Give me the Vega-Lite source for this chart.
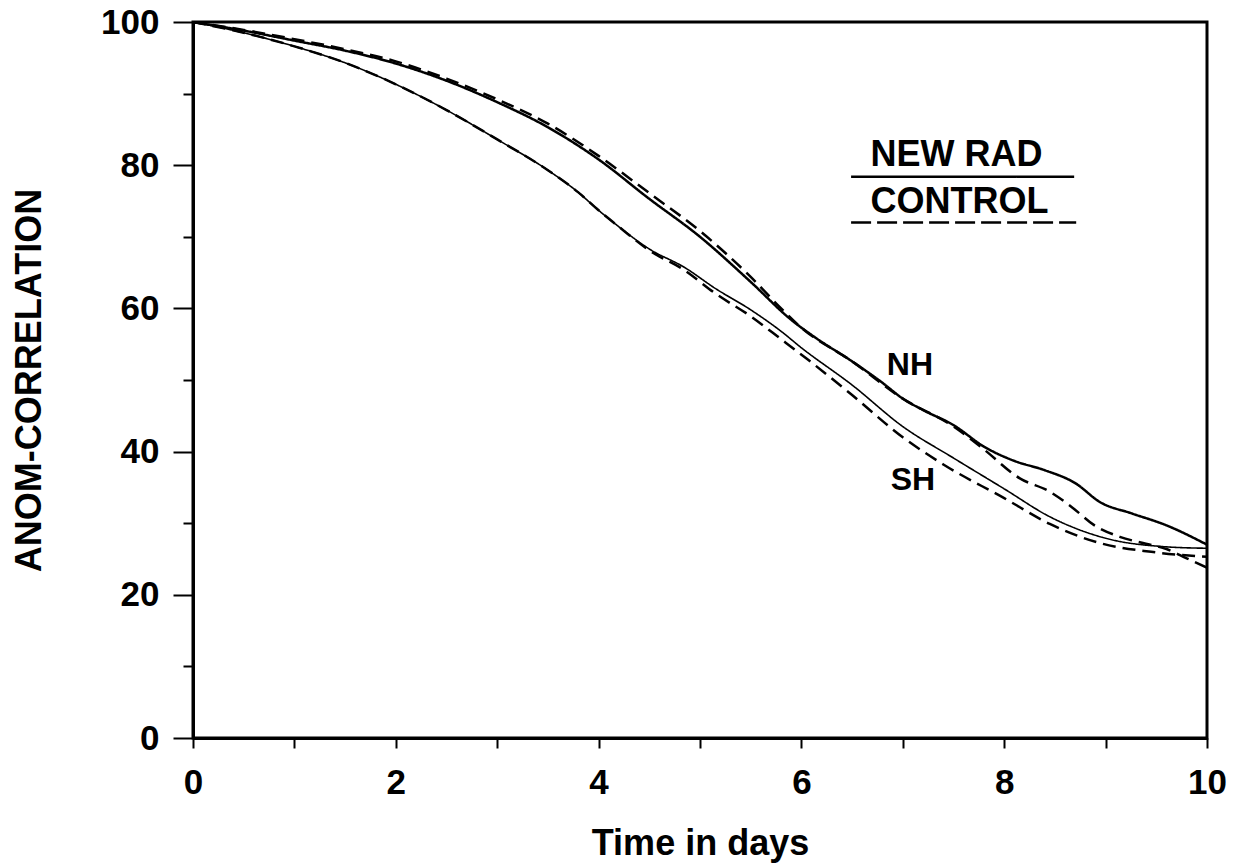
{
  "$schema": "https://vega.github.io/schema/vega-lite/v6.json",
  "width": 1014,
  "height": 716,
  "autosize": {"type": "none"},
  "padding": {"left": 193, "top": 22, "right": 27, "bottom": 126},
  "background": "white",
  "config": {
    "view": {"stroke": "black", "strokeWidth": 3},
    "font": "Liberation Sans",
    "axis": {
      "grid": false,
      "domainColor": "black",
      "domainWidth": 3,
      "tickColor": "black",
      "tickWidth": 2,
      "labelColor": "black",
      "labelFont": "Liberation Sans",
      "labelFontWeight": "bold",
      "labelFontSize": 35,
      "titleColor": "black",
      "titleFont": "Liberation Sans",
      "titleFontWeight": "bold",
      "titleFontSize": 36
    }
  },
  "datasets": {
    "curves": [
      {"region": "NH", "run": "new rad", "day": 0, "acc": 100},
      {"region": "NH", "run": "new rad", "day": 0.5, "acc": 98.8},
      {"region": "NH", "run": "new rad", "day": 1, "acc": 97.4},
      {"region": "NH", "run": "new rad", "day": 1.5, "acc": 96.0},
      {"region": "NH", "run": "new rad", "day": 2, "acc": 94.2},
      {"region": "NH", "run": "new rad", "day": 2.5, "acc": 91.8},
      {"region": "NH", "run": "new rad", "day": 3, "acc": 88.8},
      {"region": "NH", "run": "new rad", "day": 3.5, "acc": 85.3},
      {"region": "NH", "run": "new rad", "day": 4, "acc": 80.8},
      {"region": "NH", "run": "new rad", "day": 4.5, "acc": 75.3},
      {"region": "NH", "run": "new rad", "day": 5, "acc": 70.0},
      {"region": "NH", "run": "new rad", "day": 5.5, "acc": 63.7},
      {"region": "NH", "run": "new rad", "day": 5.9, "acc": 58.4},
      {"region": "NH", "run": "new rad", "day": 6.15, "acc": 55.8},
      {"region": "NH", "run": "new rad", "day": 6.5, "acc": 52.6},
      {"region": "NH", "run": "new rad", "day": 6.8, "acc": 49.6},
      {"region": "NH", "run": "new rad", "day": 7.0, "acc": 47.4},
      {"region": "NH", "run": "new rad", "day": 7.2, "acc": 45.8},
      {"region": "NH", "run": "new rad", "day": 7.5, "acc": 43.7},
      {"region": "NH", "run": "new rad", "day": 7.8, "acc": 40.7},
      {"region": "NH", "run": "new rad", "day": 8.1, "acc": 38.7},
      {"region": "NH", "run": "new rad", "day": 8.4, "acc": 37.4},
      {"region": "NH", "run": "new rad", "day": 8.7, "acc": 35.6},
      {"region": "NH", "run": "new rad", "day": 8.95, "acc": 32.9},
      {"region": "NH", "run": "new rad", "day": 9.25, "acc": 31.4},
      {"region": "NH", "run": "new rad", "day": 9.6, "acc": 29.7},
      {"region": "NH", "run": "new rad", "day": 10, "acc": 27.0},

      {"region": "NH", "run": "control", "day": 0, "acc": 100},
      {"region": "NH", "run": "control", "day": 0.5, "acc": 98.9},
      {"region": "NH", "run": "control", "day": 1, "acc": 97.6},
      {"region": "NH", "run": "control", "day": 1.5, "acc": 96.2},
      {"region": "NH", "run": "control", "day": 2, "acc": 94.5},
      {"region": "NH", "run": "control", "day": 2.5, "acc": 92.1},
      {"region": "NH", "run": "control", "day": 3, "acc": 89.2},
      {"region": "NH", "run": "control", "day": 3.5, "acc": 85.8},
      {"region": "NH", "run": "control", "day": 4, "acc": 81.3},
      {"region": "NH", "run": "control", "day": 4.5, "acc": 76.1},
      {"region": "NH", "run": "control", "day": 5, "acc": 70.8},
      {"region": "NH", "run": "control", "day": 5.5, "acc": 64.4},
      {"region": "NH", "run": "control", "day": 5.8, "acc": 60.0},
      {"region": "NH", "run": "control", "day": 6.0, "acc": 57.3},
      {"region": "NH", "run": "control", "day": 6.5, "acc": 52.6},
      {"region": "NH", "run": "control", "day": 7.0, "acc": 47.4},
      {"region": "NH", "run": "control", "day": 7.5, "acc": 43.5},
      {"region": "NH", "run": "control", "day": 7.8, "acc": 40.3},
      {"region": "NH", "run": "control", "day": 8.15, "acc": 36.3},
      {"region": "NH", "run": "control", "day": 8.45, "acc": 34.4},
      {"region": "NH", "run": "control", "day": 8.68, "acc": 32.1},
      {"region": "NH", "run": "control", "day": 8.88, "acc": 29.8},
      {"region": "NH", "run": "control", "day": 9.14, "acc": 28.1},
      {"region": "NH", "run": "control", "day": 9.44, "acc": 27.0},
      {"region": "NH", "run": "control", "day": 9.6, "acc": 26.4},
      {"region": "NH", "run": "control", "day": 9.8, "acc": 25.1},
      {"region": "NH", "run": "control", "day": 10, "acc": 23.8},

      {"region": "SH", "run": "new rad", "day": 0, "acc": 100},
      {"region": "SH", "run": "new rad", "day": 0.5, "acc": 98.5},
      {"region": "SH", "run": "new rad", "day": 1, "acc": 96.6},
      {"region": "SH", "run": "new rad", "day": 1.5, "acc": 94.3},
      {"region": "SH", "run": "new rad", "day": 2, "acc": 91.3},
      {"region": "SH", "run": "new rad", "day": 2.5, "acc": 87.7},
      {"region": "SH", "run": "new rad", "day": 3, "acc": 83.6},
      {"region": "SH", "run": "new rad", "day": 3.5, "acc": 79.3},
      {"region": "SH", "run": "new rad", "day": 3.8, "acc": 76.2},
      {"region": "SH", "run": "new rad", "day": 4.0, "acc": 73.7},
      {"region": "SH", "run": "new rad", "day": 4.2, "acc": 71.4},
      {"region": "SH", "run": "new rad", "day": 4.5, "acc": 68.3},
      {"region": "SH", "run": "new rad", "day": 4.85, "acc": 65.7},
      {"region": "SH", "run": "new rad", "day": 5.15, "acc": 62.8},
      {"region": "SH", "run": "new rad", "day": 5.5, "acc": 59.8},
      {"region": "SH", "run": "new rad", "day": 5.8, "acc": 56.8},
      {"region": "SH", "run": "new rad", "day": 6.0, "acc": 54.5},
      {"region": "SH", "run": "new rad", "day": 6.5, "acc": 49.3},
      {"region": "SH", "run": "new rad", "day": 7.0, "acc": 43.5},
      {"region": "SH", "run": "new rad", "day": 7.5, "acc": 39.1},
      {"region": "SH", "run": "new rad", "day": 8.0, "acc": 34.8},
      {"region": "SH", "run": "new rad", "day": 8.45, "acc": 30.9},
      {"region": "SH", "run": "new rad", "day": 9.0, "acc": 27.9},
      {"region": "SH", "run": "new rad", "day": 9.6, "acc": 26.7},
      {"region": "SH", "run": "new rad", "day": 10, "acc": 26.5},

      {"region": "SH", "run": "control", "day": 0, "acc": 100},
      {"region": "SH", "run": "control", "day": 0.5, "acc": 98.5},
      {"region": "SH", "run": "control", "day": 1, "acc": 96.6},
      {"region": "SH", "run": "control", "day": 1.5, "acc": 94.3},
      {"region": "SH", "run": "control", "day": 2, "acc": 91.3},
      {"region": "SH", "run": "control", "day": 2.5, "acc": 87.7},
      {"region": "SH", "run": "control", "day": 3, "acc": 83.6},
      {"region": "SH", "run": "control", "day": 3.5, "acc": 79.3},
      {"region": "SH", "run": "control", "day": 3.8, "acc": 76.2},
      {"region": "SH", "run": "control", "day": 4.0, "acc": 73.7},
      {"region": "SH", "run": "control", "day": 4.2, "acc": 71.4},
      {"region": "SH", "run": "control", "day": 4.5, "acc": 68.1},
      {"region": "SH", "run": "control", "day": 4.85, "acc": 65.3},
      {"region": "SH", "run": "control", "day": 5.15, "acc": 62.1},
      {"region": "SH", "run": "control", "day": 5.5, "acc": 58.9},
      {"region": "SH", "run": "control", "day": 5.8, "acc": 55.7},
      {"region": "SH", "run": "control", "day": 6.05, "acc": 53.0},
      {"region": "SH", "run": "control", "day": 6.5, "acc": 47.9},
      {"region": "SH", "run": "control", "day": 7.0, "acc": 42.0},
      {"region": "SH", "run": "control", "day": 7.4, "acc": 38.2},
      {"region": "SH", "run": "control", "day": 8.0, "acc": 33.5},
      {"region": "SH", "run": "control", "day": 8.45, "acc": 29.9},
      {"region": "SH", "run": "control", "day": 8.95, "acc": 27.2},
      {"region": "SH", "run": "control", "day": 9.45, "acc": 26.0},
      {"region": "SH", "run": "control", "day": 10, "acc": 25.3}
    ],
    "key": [
      {"run": "new rad", "label": "NEW RAD", "x0": 6.49, "x1": 8.69, "rule_y": 78.4, "text_x": 7.53, "text_y": 79.9},
      {"run": "control", "label": "CONTROL", "x0": 6.49, "x1": 8.71, "rule_y": 72.0, "text_x": 7.56, "text_y": 73.3}
    ],
    "regions": [
      {"label": "NH", "day": 7.07, "acc": 50.7},
      {"label": "SH", "day": 7.10, "acc": 34.6}
    ]
  },
  "layer": [
    {
      "data": {"name": "curves"},
      "mark": {"type": "line", "color": "black", "interpolate": "monotone", "clip": true},
      "encoding": {
        "x": {
          "field": "day", "type": "quantitative",
          "scale": {"domain": [0, 10], "nice": false, "zero": false},
          "axis": {
            "title": "Time in days",
            "format": "d",
            "values": [0, 1, 2, 3, 4, 5, 6, 7, 8, 9, 10],
            "labelExpr": "datum.value % 2 === 0 ? datum.label : ''",
            "tickSize": 10,
            "labelPadding": 17,
            "titlePadding": 26,
            "labelFlush": false,
            "labelOverlap": false
          }
        },
        "y": {
          "field": "acc", "type": "quantitative",
          "scale": {"domain": [0, 100], "nice": false},
          "axis": {
            "title": "ANOM-CORRELATION",
            "format": "d",
            "values": [0, 10, 20, 30, 40, 50, 60, 70, 80, 90, 100],
            "labelExpr": "datum.value % 20 === 0 ? datum.label : ''",
            "tickSize": {"condition": {"test": "datum.value % 20 === 0", "value": 20}, "value": 10},
            "labelPadding": 14,
            "titlePadding": 52,
            "labelFlush": false,
            "labelOverlap": false
          }
        },
        "detail": {"field": "region"},
        "strokeDash": {
          "field": "run", "type": "nominal",
          "scale": {"domain": ["new rad", "control"], "range": [[1, 0], [13, 7]]},
          "legend": null
        },
        "strokeWidth": {
          "condition": {"test": "datum.region === 'SH' && datum.run === 'new rad'", "value": 1.6},
          "value": 2.5
        }
      }
    },
    {
      "data": {"name": "key"},
      "mark": {"type": "rule", "color": "black", "strokeWidth": 2.5},
      "encoding": {
        "x": {"field": "x0", "type": "quantitative"},
        "x2": {"field": "x1"},
        "y": {"field": "rule_y", "type": "quantitative"},
        "strokeDash": {
          "field": "run", "type": "nominal",
          "scale": {"domain": ["new rad", "control"], "range": [[1, 0], [20, 6]]},
          "legend": null
        }
      }
    },
    {
      "data": {"name": "key"},
      "mark": {"type": "text", "color": "black", "font": "Liberation Sans", "fontWeight": "bold", "fontSize": 36, "align": "center", "baseline": "alphabetic"},
      "encoding": {
        "x": {"field": "text_x", "type": "quantitative"},
        "y": {"field": "text_y", "type": "quantitative"},
        "text": {"field": "label"}
      }
    },
    {
      "data": {"name": "regions"},
      "mark": {"type": "text", "color": "black", "font": "Liberation Sans", "fontWeight": "bold", "fontSize": 32, "align": "center", "baseline": "alphabetic"},
      "encoding": {
        "x": {"field": "day", "type": "quantitative"},
        "y": {"field": "acc", "type": "quantitative"},
        "text": {"field": "label"}
      }
    }
  ],
  "resolve": {"scale": {"strokeDash": "independent"}}
}
